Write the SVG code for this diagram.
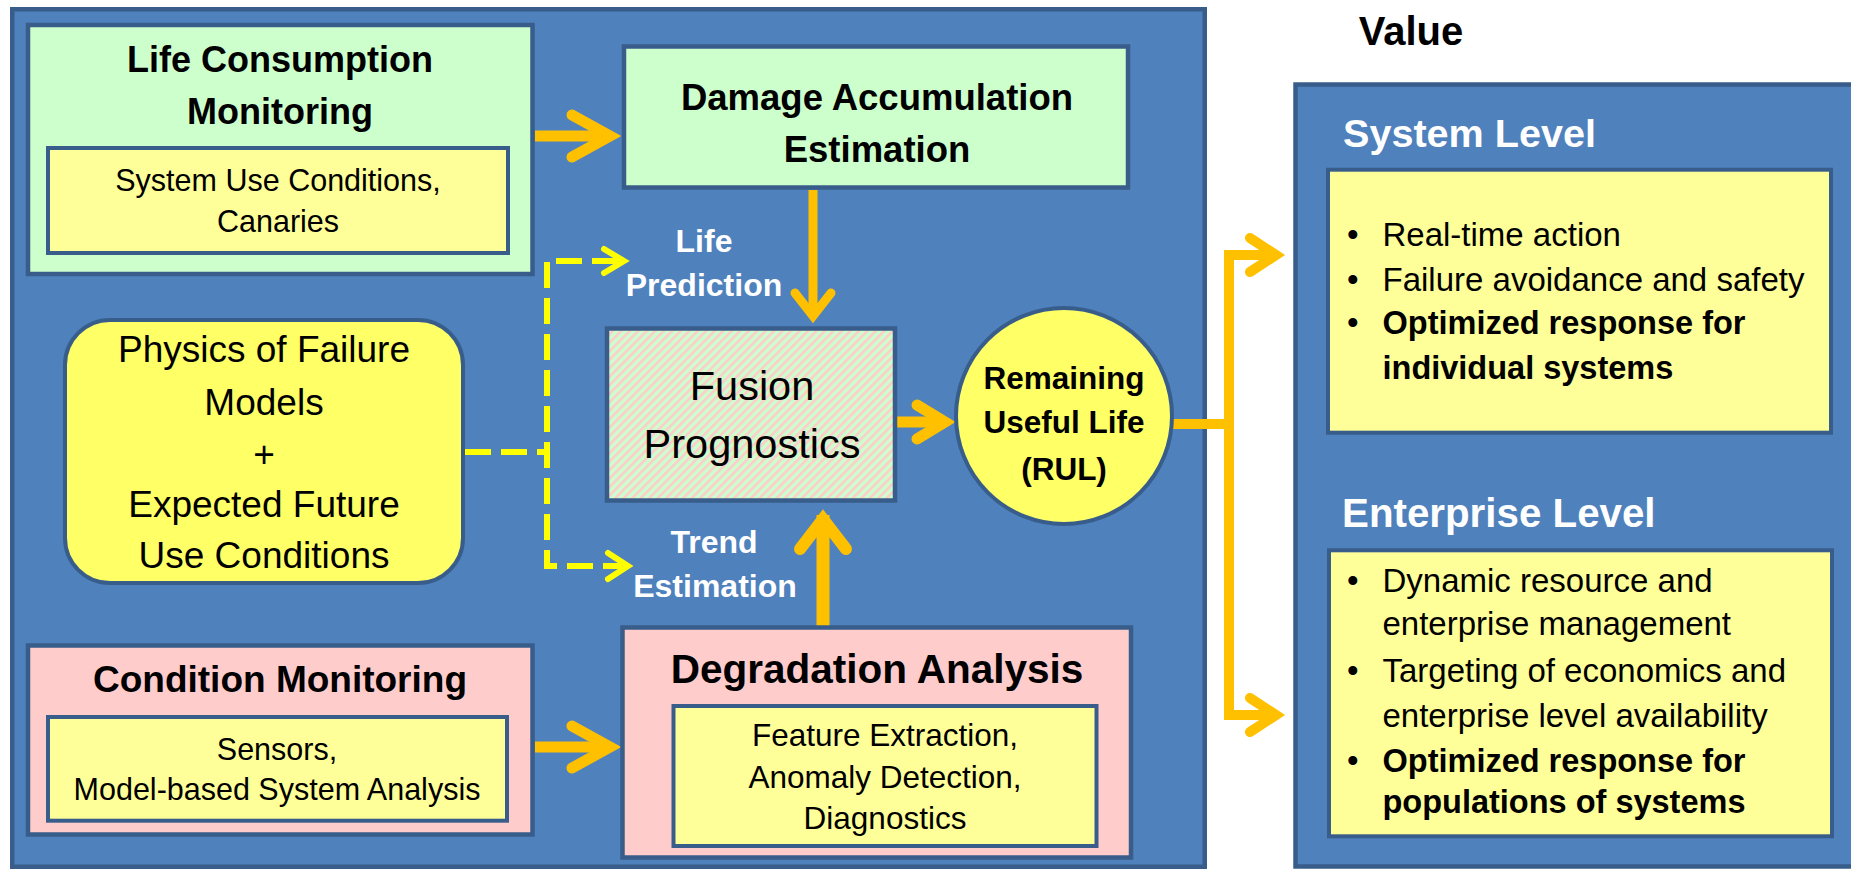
<svg xmlns="http://www.w3.org/2000/svg" width="1851" height="870" viewBox="0 0 1851 870">
<style>
.panel{fill:#4f81bd;stroke:#385d8a;stroke-width:4.5}
.green{fill:#ccffcc;stroke:#385d8a;stroke-width:4.5}
.pink{fill:#ffcccc;stroke:#385d8a;stroke-width:4.5}
.inner{fill:#ffff99;stroke:#385d8a;stroke-width:4}
.bright{fill:#ffff66;stroke:#385d8a;stroke-width:4}
text{font-family:"Liberation Sans",Arial,sans-serif;fill:#000}
.b{font-weight:bold}
.c{text-anchor:middle}
.w{fill:#fff}
.shaft{stroke:#ffc000;fill:none;stroke-linecap:butt;stroke-linejoin:miter}
.head{stroke:#ffc000;fill:none;stroke-linecap:round;stroke-linejoin:miter}
.yd{stroke:#ffff00;fill:none;stroke-width:6;stroke-dasharray:26 10}
.yh{stroke:#ffff00;fill:none;stroke-width:6;stroke-linecap:round;stroke-linejoin:miter}
</style>
<defs>
<pattern id="hatch" patternUnits="userSpaceOnUse" width="6" height="6" patternTransform="rotate(45)">
<rect width="6" height="6" fill="#ccffcc"/>
<rect width="2.6" height="6" fill="#ffcccc"/>
</pattern>
</defs>
<rect width="1851" height="870" fill="#ffffff"/>
<g id="main-panel"><rect class="panel" x="12.25" y="9.25" width="1192.5" height="857.5"/></g>
<g id="value-panel"><rect class="panel" x="1295.5" y="84.5" width="600" height="782"/></g>

<g id="connectors">
<line class="shaft" x1="535" y1="136" x2="605" y2="136" stroke-width="11"/>
<polyline class="head" points="572,115 610,136 572,157" stroke-width="11"/>
<line class="shaft" x1="535" y1="747" x2="605" y2="747" stroke-width="11"/>
<polyline class="head" points="572,726 610,747 572,768" stroke-width="11"/>
<line class="shaft" x1="813" y1="190" x2="813" y2="312" stroke-width="9"/>
<polyline class="head" points="795,293 813,316 831,293" stroke-width="9"/>
<line class="shaft" x1="823" y1="627" x2="823" y2="515" stroke-width="13"/>
<polyline class="head" points="800,549 823,519 846,549" stroke-width="12"/>
<line class="shaft" x1="897" y1="422" x2="940" y2="422" stroke-width="11"/>
<polyline class="head" points="917,405 945,422 917,439" stroke-width="11"/>
<line class="shaft" x1="1172" y1="424" x2="1229" y2="424" stroke-width="10"/>
<path class="shaft" d="M1272,255 H1229 V715 H1272" stroke-width="10"/>
<polyline class="head" points="1250,238 1276,255 1250,272" stroke-width="10"/>
<polyline class="head" points="1250,698 1276,715 1250,732" stroke-width="10"/>
<path class="yd" d="M465,452 H547"/>
<path class="yd" d="M618,261 H547 V566 H622"/>
<polyline class="yh" points="604,249 624,261 604,273"/>
<polyline class="yh" points="608,553 628,566 608,579"/>
</g>

<g id="life-consumption">
<rect class="green" x="28" y="25" width="504.5" height="249"/>
<text class="b c" x="280" y="71.7" font-size="36">Life Consumption</text>
<text class="b c" x="280" y="124" font-size="36">Monitoring</text>
<rect class="inner" x="48" y="148" width="460" height="105"/>
<text class="c" x="278" y="190.7" font-size="30.5">System Use Conditions,</text>
<text class="c" x="278" y="232" font-size="30.5">Canaries</text>
</g>

<g id="damage-accumulation">
<rect class="green" x="624" y="46.5" width="504" height="141"/>
<text class="b c" x="877" y="110" font-size="36.5">Damage Accumulation</text>
<text class="b c" x="877" y="161.7" font-size="36.5">Estimation</text>
</g>

<g id="physics-of-failure">
<rect class="bright" x="65" y="320" width="398" height="263" rx="45" ry="45"/>
<text class="c" x="264" y="361.7" font-size="37">Physics of Failure</text>
<text class="c" x="264" y="415" font-size="37">Models</text>
<text class="c" x="264" y="467" font-size="37">+</text>
<text class="c" x="264" y="516.7" font-size="37">Expected Future</text>
<text class="c" x="264" y="568" font-size="37">Use Conditions</text>
</g>

<g id="label-life-prediction">
<text class="b c w" x="704" y="251.7" font-size="32">Life</text>
<text class="b c w" x="704" y="295.5" font-size="32">Prediction</text>
</g>

<g id="label-trend-estimation">
<text class="b c w" x="714" y="553.3" font-size="32">Trend</text>
<text class="b c w" x="715" y="597" font-size="32">Estimation</text>
</g>

<g id="fusion-prognostics">
<rect x="607" y="328.5" width="288" height="172" fill="url(#hatch)" stroke="#385d8a" stroke-width="4.5"/>
<text class="c" x="752" y="400" font-size="41.5">Fusion</text>
<text class="c" x="752" y="458.3" font-size="41.5">Prognostics</text>
</g>

<g id="rul">
<circle cx="1064" cy="416" r="108" fill="#ffff66" stroke="#385d8a" stroke-width="4"/>
<text class="b c" x="1064" y="389.3" font-size="31.5">Remaining</text>
<text class="b c" x="1064" y="433.3" font-size="31.5">Useful Life</text>
<text class="b c" x="1064" y="480" font-size="31.5">(RUL)</text>
</g>

<g id="condition-monitoring">
<rect class="pink" x="28" y="645.5" width="504.5" height="189"/>
<text class="b c" x="280" y="691.7" font-size="37">Condition Monitoring</text>
<rect class="inner" x="48" y="717" width="459" height="103.7"/>
<text class="c" x="277" y="760" font-size="30.5">Sensors,</text>
<text class="c" x="277" y="800" font-size="30.5">Model-based System Analysis</text>
</g>

<g id="degradation-analysis">
<rect class="pink" x="622.5" y="627.5" width="508.5" height="230"/>
<text class="b c" x="877" y="683" font-size="40.5">Degradation Analysis</text>
<rect class="inner" x="673.5" y="706" width="423" height="140"/>
<text class="c" x="885" y="745.7" font-size="31.5">Feature Extraction,</text>
<text class="c" x="885" y="788" font-size="31.5">Anomaly Detection,</text>
<text class="c" x="885" y="829" font-size="31.5">Diagnostics</text>
</g>

<g id="value-title">
<text class="b" x="1358.7" y="45" font-size="40">Value</text>
</g>

<g id="system-level">
<text class="b w" x="1343" y="146.7" font-size="39.6">System Level</text>
<rect class="inner" x="1328" y="169.7" width="503" height="263"/>
<text x="1347" y="246" font-size="33">•</text>
<text x="1382.5" y="246" font-size="33">Real-time action</text>
<text x="1347" y="290.7" font-size="33">•</text>
<text x="1382.5" y="290.7" font-size="33">Failure avoidance and safety</text>
<text x="1347" y="334.3" font-size="33">•</text>
<text class="b" x="1382.5" y="334.3" font-size="32.5">Optimized response for</text>
<text class="b" x="1382.5" y="379" font-size="32.5">individual systems</text>
</g>

<g id="enterprise-level">
<text class="b w" x="1342" y="527.3" font-size="40.3">Enterprise Level</text>
<rect class="inner" x="1329" y="550.3" width="503" height="286"/>
<text x="1347" y="591.7" font-size="33">•</text>
<text x="1382.5" y="591.7" font-size="33">Dynamic resource and</text>
<text x="1382.5" y="635" font-size="33">enterprise management</text>
<text x="1347" y="681.7" font-size="33">•</text>
<text x="1382.5" y="681.7" font-size="33">Targeting of economics and</text>
<text x="1382.5" y="726.7" font-size="33">enterprise level availability</text>
<text x="1347" y="771.7" font-size="33">•</text>
<text class="b" x="1382.5" y="771.7" font-size="32.5">Optimized response for</text>
<text class="b" x="1382.5" y="813.3" font-size="32.5">populations of systems</text>
</g>
</svg>
